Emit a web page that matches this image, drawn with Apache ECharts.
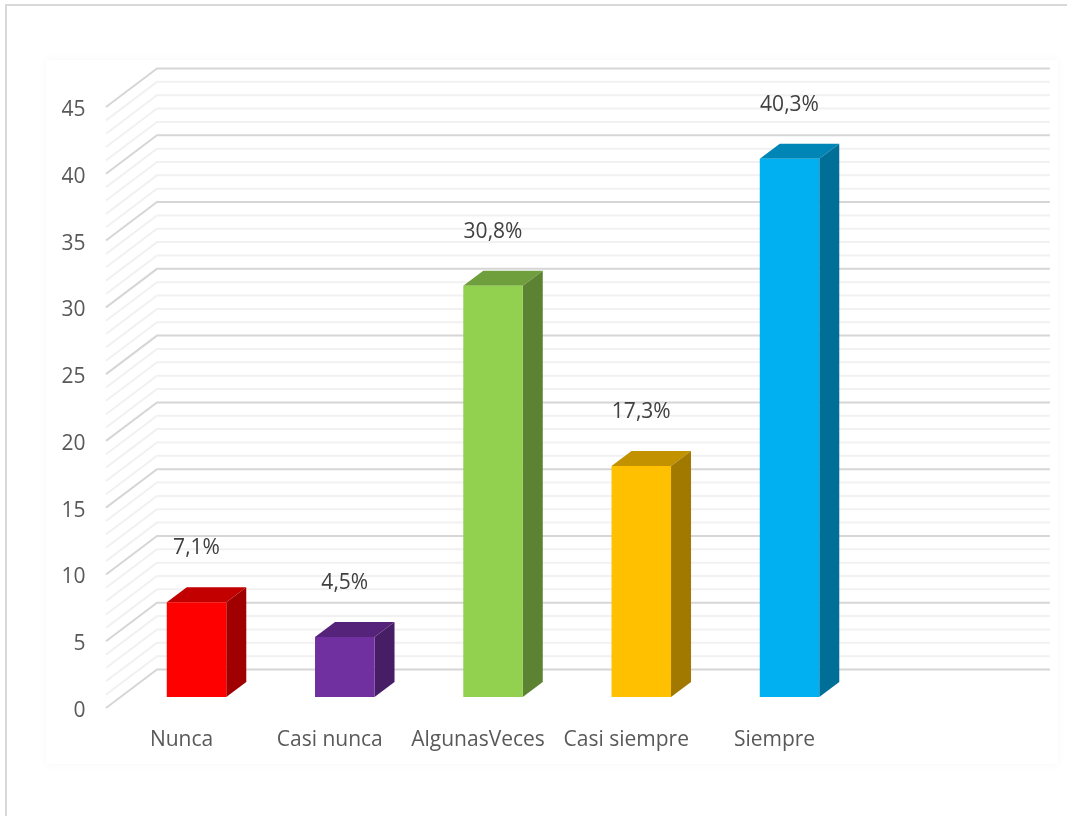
<!DOCTYPE html>
<html>
<head>
<meta charset="utf-8">
<title>Frecuencia</title>
<script src="https://cdn.jsdelivr.net/npm/echarts@6/dist/echarts.min.js"></script>
<style>
  html, body { margin: 0; padding: 0; background: #fff; overflow: hidden; }
  #frame { position: absolute; left: 5px; top: 4px; right: 0; bottom: 0; border-top: 2px solid #d9d9d9; border-left: 2px solid #d9d9d9; }
  #card { position: absolute; left: 46px; top: 60px; width: 1012px; height: 704px; background: #fff; box-shadow: 0 0 9px rgba(0,0,0,0.035); }
  #chart { position: absolute; left: 0; top: 0; width: 1067px; height: 816px; }
</style>
</head>
<body>
<div id="frame"></div>
<div id="card"></div>
<div id="chart"></div>
<script>
// ============================================================
// Data
// ============================================================
var CATEGORIES = ['Nunca', 'Casi nunca', 'AlgunasVeces', 'Casi siempre', 'Siempre', ''];
var VALUES = [7.1, 4.5, 30.8, 17.3, 40.3];
var BAR_COLORS = ['#FF0000', '#7030A0', '#92D050', '#FFC000', '#00B0F0'];
var GRID_VALUES = [0, 1, 2, 3, 4, 5, 6, 7, 8, 9, 10, 11, 12, 13, 14, 15, 16, 17, 18, 19, 20, 21, 22,
  23, 24, 25, 26, 27, 28, 29, 30, 31, 32, 33, 34, 35, 36, 37, 38, 39, 40, 41, 42, 43, 44, 45];

// ============================================================
// Fake 3D settings (pixels)
// ============================================================
var FONT = '"Open Sans", "Noto Sans", sans-serif';
var TEXT_COLOR = '#595959';
var WALL_DX = 51;
var WALL_DY = 38.5;
var BAR_WIDTH = 59.5;
var BAR_SHIFT_X = 15;
var BAR_SHIFT_Y = 11;
var BAR_DX = 20;
var BAR_DY = 15;
var LABEL_GAP = 54;

function shade(hex, factor) {
  var n = parseInt(hex.slice(1), 16);
  var r = Math.round((n >> 16 & 255) * factor);
  var g = Math.round((n >> 8 & 255) * factor);
  var b = Math.round((n & 255) * factor);
  return 'rgb(' + r + ',' + g + ',' + b + ')';
}

function formatPercent(v) {
  return v.toFixed(1).replace('.', ',') + '%';
}

// ============================================================
// Render functions
// ============================================================
function renderWallLine(params, api) {
  var v = api.value(0);
  var y = api.coord([0, v])[1];
  var sys = params.coordSys;
  var x0 = sys.x - 1.4;
  var x1 = sys.x + sys.width + WALL_DX + 2;
  var major = v % 5 === 0;
  return {
    type: 'polyline',
    shape: { points: [[x0, y], [x0 + WALL_DX, y - WALL_DY], [x1, y - WALL_DY]] },
    style: { fill: null, stroke: major ? '#d6d6d6' : '#f1f1f1', lineWidth: 2 },
    silent: true,
  };
}

function renderBar(params, api) {
  var i = api.value(0);
  var v = api.value(1);
  var color = BAR_COLORS[i];
  var top = api.coord([i, v]);
  var base = api.coord([i, 0]);
  var cx = top[0] + BAR_SHIFT_X;
  var x0 = cx - BAR_WIDTH / 2;
  var x1 = cx + BAR_WIDTH / 2;
  var yTop = top[1] - BAR_SHIFT_Y;
  var yBase = base[1] - BAR_SHIFT_Y;
  return {
    type: 'group',
    children: [
      {
        type: 'polygon',
        shape: { points: [[x0, yTop], [x1, yTop], [x1 + BAR_DX, yTop - BAR_DY], [x0 + BAR_DX, yTop - BAR_DY]] },
        style: { fill: shade(color, 0.76) },
      },
      {
        type: 'polygon',
        shape: { points: [[x1, yTop], [x1 + BAR_DX, yTop - BAR_DY], [x1 + BAR_DX, yBase - BAR_DY], [x1, yBase]] },
        style: { fill: shade(color, 0.63) },
      },
      {
        type: 'rect',
        shape: { x: x0, y: yTop, width: BAR_WIDTH, height: yBase - yTop },
        style: { fill: color },
      },
      {
        type: 'text',
        style: {
          x: cx,
          y: yTop - LABEL_GAP,
          text: formatPercent(v),
          fill: '#404040',
          font: '21px ' + FONT,
          align: 'center',
          verticalAlign: 'middle',
        },
      },
    ],
  };
}

// ============================================================
// Chart
// ============================================================
var chart = echarts.init(document.getElementById('chart'));

chart.setOption({
  animation: false,
  backgroundColor: 'transparent',
  grid: { left: 107.4, top: 107, width: 889.5, height: 601 },
  xAxis: {
    type: 'category',
    data: CATEGORIES,
    axisLine: { show: false },
    axisTick: { show: false },
    axisLabel: { color: TEXT_COLOR, fontFamily: FONT, fontSize: 21, margin: 22, interval: 0 },
  },
  yAxis: {
    type: 'value',
    min: 0,
    max: 45,
    interval: 5,
    splitLine: { show: false },
    axisLine: { show: false },
    axisTick: { show: false },
    axisLabel: { color: TEXT_COLOR, fontFamily: FONT, fontSize: 21, margin: 22, verticalAlign: 'top', lineHeight: 6 },
  },
  series: [
    {
      type: 'custom',
      coordinateSystem: 'cartesian2d',
      renderItem: renderWallLine,
      data: GRID_VALUES.map(function(v) { return [v]; }),
      encode: { y: 0 },
      silent: true,
      z: 1,
    },
    {
      type: 'custom',
      coordinateSystem: 'cartesian2d',
      renderItem: renderBar,
      data: VALUES.map(function(v, i) { return [i, v]; }),
      encode: { x: 0, y: 1 },
      z: 2,
    },
  ],
});
</script>
</body>
</html>
